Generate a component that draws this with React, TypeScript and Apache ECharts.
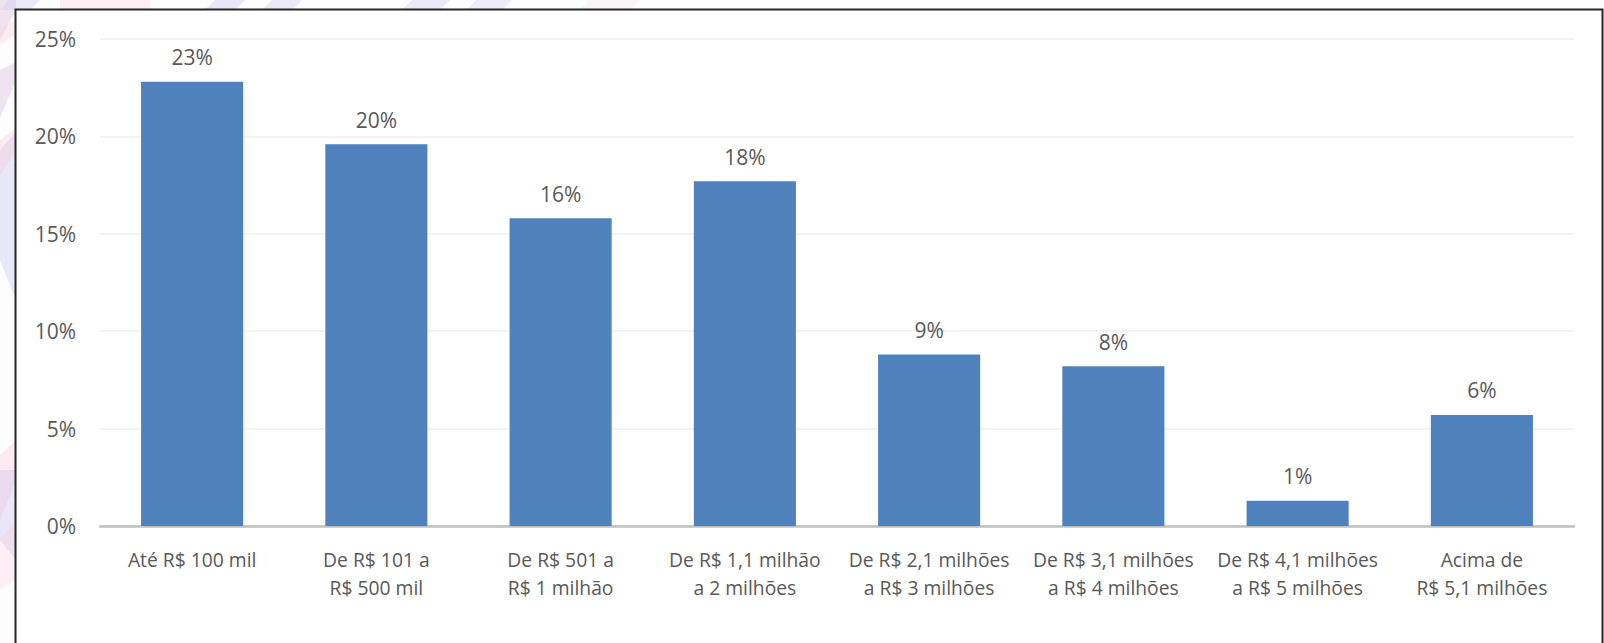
import React, { useEffect, useRef } from "react";
import * as echarts from "echarts";

// Faixas de faturamento anual e participação (%) de cada faixa
const categories = [
  "Até R$ 100 mil",
  "De R$ 101 a\nR$ 500 mil",
  "De R$ 501 a\nR$ 1 milhão",
  "De R$ 1,1 milhão\na 2 milhões",
  "De R$ 2,1 milhões\na R$ 3 milhões",
  "De R$ 3,1 milhões\na R$ 4 milhões",
  "De R$ 4,1 milhões\na R$ 5 milhões",
  "Acima de\nR$ 5,1 milhões",
];
const shares = [22.8, 19.6, 15.8, 17.7, 8.8, 8.2, 1.3, 5.7];
const yTicks = { min: 0, max: 25, interval: 5 };

const FONT = "'Open Sans', 'Noto Sans', sans-serif";
const TEXT = "#595959";

// Faint ribbons of the slide background peeking round the frame
const ribbons: { points: number[][]; fill: string }[] = [
  { points: [[0, 0], [16, 0], [16, 10], [0, 40]], fill: "rgba(200,150,200,0.25)" },
  { points: [[0, 28], [16, 20], [16, 34], [0, 44]], fill: "rgba(250,200,215,0.35)" },
  { points: [[0, 70], [16, 62], [16, 80], [0, 118]], fill: "rgba(210,170,215,0.3)" },
  { points: [[0, 150], [16, 132], [16, 300], [0, 260]], fill: "rgba(205,205,240,0.45)" },
  { points: [[0, 140], [16, 128], [16, 150], [0, 175]], fill: "rgba(250,200,215,0.35)" },
  { points: [[0, 455], [16, 440], [16, 480], [0, 520]], fill: "rgba(250,205,220,0.4)" },
  { points: [[0, 470], [16, 470], [16, 560], [0, 540]], fill: "rgba(210,200,240,0.45)" },
  { points: [[0, 540], [16, 520], [16, 580], [0, 590]], fill: "rgba(250,210,225,0.35)" },
  { points: [[8, 0], [40, 0], [30, 10], [0, 10]], fill: "rgba(205,205,240,0.4)" },
  { points: [[60, 0], [150, 0], [150, 10], [60, 10]], fill: "rgba(250,210,225,0.35)" },
  { points: [[215, 0], [245, 0], [235, 10], [205, 10]], fill: "rgba(205,205,240,0.45)" },
  { points: [[272, 0], [302, 0], [292, 10], [262, 10]], fill: "rgba(205,205,240,0.4)" },
  { points: [[412, 0], [450, 0], [440, 10], [402, 10]], fill: "rgba(205,205,240,0.4)" },
  { points: [[476, 0], [512, 0], [502, 10], [466, 10]], fill: "rgba(205,205,240,0.35)" },
  { points: [[590, 0], [640, 0], [630, 10], [580, 10]], fill: "rgba(250,215,225,0.25)" },
];

export default function App() {
  const ref = useRef<HTMLDivElement>(null);

  useEffect(() => {
    if (!ref.current) return;
    const chart = echarts.init(ref.current, undefined, { renderer: "svg" });

    const graphic: any[] = ribbons.map((r) => ({
      type: "polygon",
      z: -20,
      silent: true,
      shape: { points: r.points },
      style: { fill: r.fill },
    }));
    graphic.push({
      type: "rect",
      z: -10,
      silent: true,
      shape: { x: 15.5, y: 9.5, width: 1587, height: 700 },
      style: { fill: "#ffffff", stroke: "#262626", lineWidth: 2 },
    });

    chart.setOption({
      animation: false,
      backgroundColor: "#fdfdfe",
      graphic,
      grid: { left: 100, right: 30, top: 39, bottom: 117, containLabel: false },
      xAxis: {
        type: "category",
        data: categories,
        axisTick: { show: false },
        axisLine: { lineStyle: { color: "#bfbfbf", width: 2.5 } },
        axisLabel: {
          interval: 0,
          margin: 19,
          fontFamily: FONT,
          fontSize: 19.3,
          lineHeight: 28,
          color: TEXT,
          align: "center",
        },
      },
      yAxis: {
        type: "value",
        min: yTicks.min,
        max: yTicks.max,
        interval: yTicks.interval,
        axisLine: { show: false },
        axisTick: { show: false },
        splitLine: { lineStyle: { color: "#efefef", width: 1.5 } },
        axisLabel: {
          margin: 24,
          fontFamily: FONT,
          fontSize: 21,
          color: TEXT,
          formatter: "{value}%",
        },
      },
      series: [
        {
          type: "bar",
          data: shares,
          barWidth: "55.4%",
          itemStyle: { color: "#4f81bd" },
          label: {
            show: true,
            position: "top",
            distance: 14,
            fontFamily: FONT,
            fontSize: 21,
            color: TEXT,
            formatter: (p: any) => `${Math.round(p.value)}%`,
          },
        },
      ],
    });

    return () => chart.dispose();
  }, []);

  return (
    <div
      ref={ref}
      style={{ position: "fixed", left: 0, top: 0, width: 1604, height: 643 }}
    />
  );
}
